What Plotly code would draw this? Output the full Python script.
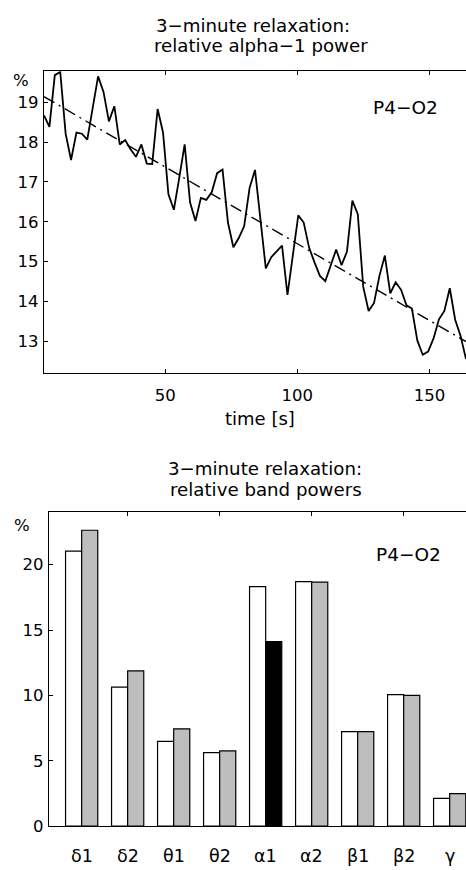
import plotly.graph_objects as go

# ---------------- data ----------------
times = [4.096, 6.144, 8.192, 10.24, 12.288, 14.336, 16.384, 18.432, 20.48, 22.528,
         24.576, 26.624, 28.672, 30.72, 32.768, 34.816, 36.864, 38.912, 40.96, 43.008,
         45.056, 47.104, 49.152, 51.2, 53.248, 55.296, 57.344, 59.392, 61.44, 63.488,
         65.536, 67.584, 69.632, 71.68, 73.728, 75.776, 77.824, 79.872, 81.92, 83.968,
         86.016, 88.064, 90.112, 92.16, 94.208, 96.256, 98.304, 100.352, 102.4, 104.448,
         106.496, 108.544, 110.592, 112.64, 114.688, 116.736, 118.784, 120.832, 122.88, 124.928,
         126.976, 129.024, 131.072, 133.12, 135.168, 137.216, 139.264, 141.312, 143.36, 145.408,
         147.456, 149.504, 151.552, 153.6, 155.648, 157.696, 159.744, 161.792, 163.84]

alpha1_power = [18.67, 18.38, 19.68, 19.76, 18.21, 17.55, 18.24, 18.21, 18.06, 18.85,
                19.65, 19.26, 18.52, 18.90, 17.94, 18.05, 17.82, 17.63, 17.94, 17.46,
                17.45, 18.83, 18.24, 16.69, 16.30, 17.10, 17.94, 16.48, 16.02, 16.60,
                16.55, 16.74, 17.22, 17.31, 15.98, 15.36, 15.59, 15.89, 16.85, 17.30,
                16.05, 14.83, 15.11, 15.25, 15.40, 14.16, 15.11, 16.16, 15.98, 15.35,
                14.98, 14.64, 14.51, 14.90, 15.30, 14.91, 15.25, 16.53, 16.19, 14.37,
                13.76, 13.96, 14.64, 15.15, 14.20, 14.48, 14.29, 13.90, 13.82, 13.02,
                12.66, 12.74, 13.07, 13.55, 13.76, 14.33, 13.54, 13.13, 12.55]

trend_t = [4.096, 163.84]
trend_v = [19.14, 12.99]

bands = ["δ1", "δ2", "θ1", "θ2", "α1", "α2", "β1", "β2", "γ"]
band_pos = list(range(1, len(bands) + 1))
power_first = [21.04, 10.63, 6.48, 5.62, 18.32, 18.70, 7.23, 10.05, 2.12]
power_second = [22.63, 11.87, 7.44, 5.75, 14.11, 18.66, 7.23, 10.00, 2.49]
second_colors = ["#bebebe", "#bebebe", "#bebebe", "#bebebe", "#000000",
                 "#bebebe", "#bebebe", "#bebebe", "#bebebe"]

channel = "P4−O2"
top_title = ["3−minute relaxation:", "relative alpha−1 power"]
bot_title = ["3−minute relaxation:", "relative band powers"]

# ---------------- layout helpers ----------------
W, H = 466, 870
FONT = "DejaVu Sans"


def px(x):
    return x / W


def py(y):
    return 1 - y / H


fig = go.Figure()

fig.add_trace(go.Scatter(x=times, y=alpha1_power, mode="lines",
                         line=dict(color="black", width=1.8),
                         xaxis="x", yaxis="y", showlegend=False, hoverinfo="skip"))
fig.add_trace(go.Scatter(x=trend_t, y=trend_v, mode="lines",
                         line=dict(color="black", width=1.4, dash="12px,5px,2px,5px"),
                         xaxis="x", yaxis="y", showlegend=False, hoverinfo="skip"))

fig.add_trace(go.Bar(x=band_pos, y=power_first, xaxis="x2", yaxis="y2",
                     marker=dict(color="white", line=dict(color="black", width=1.2)),
                     showlegend=False, hoverinfo="skip"))
fig.add_trace(go.Bar(x=band_pos, y=power_second, xaxis="x2", yaxis="y2",
                     marker=dict(color=second_colors, line=dict(color="black", width=1.2)),
                     showlegend=False, hoverinfo="skip"))

axis_common = dict(showline=True, linecolor="black", linewidth=1.3,
                   ticks="inside", ticklen=4, tickcolor="black", tickwidth=1,
                   showgrid=False, zeroline=False,
                   tickfont=dict(family=FONT, size=16.5, color="black"))

fig.update_layout(
    width=W, height=H,
    margin=dict(l=0, r=0, t=0, b=0),
    paper_bgcolor="white", plot_bgcolor="white",
    barmode="group", bargap=0.3, bargroupgap=0,
    xaxis=dict(domain=[px(44), 1], anchor="y", range=[4.096, 163.84],
               tickvals=[50, 100, 150], mirror="ticks", ticklabelstandoff=7,
               **axis_common),
    yaxis=dict(domain=[py(377), py(72)], anchor="x", range=[12.21, 19.78],
               tickvals=[13, 14, 15, 16, 17, 18, 19], mirror=False,
               ticklabelstandoff=1, **axis_common),
    xaxis2=dict(domain=[px(49), 1], anchor="y2", range=[0.29, 9.355],
                tickvals=[2, 4, 6, 8], showticklabels=False, mirror="ticks",
                **axis_common),
    yaxis2=dict(domain=[py(835.7), py(518.3)], anchor="x2", range=[0, 24],
                tickvals=[0, 5, 10, 15, 20], mirror=False,
                ticklabelstandoff=1, **axis_common),
)

ann = []


def text(x, y, s, size=18.2, xref="paper", xanchor="center"):
    ann.append(dict(x=x, y=y, xref=xref, yref="paper", text=s, showarrow=False,
                    xanchor=xanchor, yanchor="middle",
                    font=dict(family=FONT, size=size, color="black")))


# titles
text(px(253), py(25.5), top_title[0])
text(px(260.5), py(46), top_title[1])
text(px(265), py(473.5), bot_title[0])
text(px(265.5), py(495.5), bot_title[1])
# axis label
text(px(260), py(423), "time [s]", size=18)
# percent signs
text(px(21), py(81), "%", size=16.5)
text(px(22), py(532), "%", size=16.5)
# channel labels
text(px(405.5), py(109), channel, size=18.5)
text(px(408), py(561), channel, size=18.5)
# band labels
for pos, lab in zip(band_pos, bands):
    text(pos, py(866), lab, size=17.5, xref="x2")

fig.update_layout(annotations=ann)

fig.write_html("out.html",
               config={"displayModeBar": False},
               post_script="document.body.style.margin='0';"
                           "document.body.style.overflow='hidden';")
